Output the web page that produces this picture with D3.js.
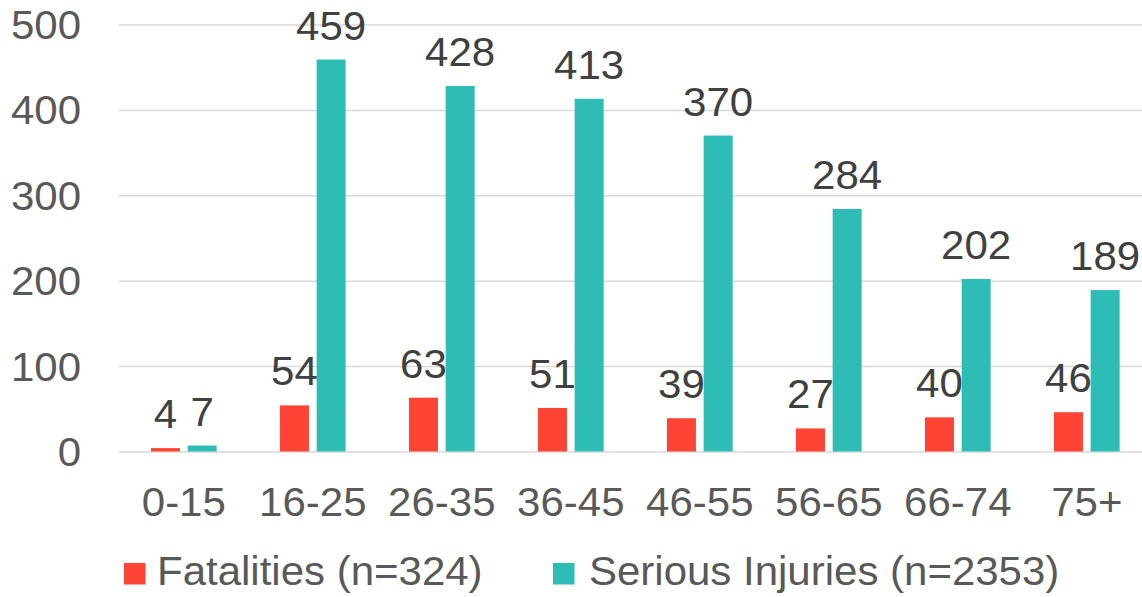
<!DOCTYPE html>
<html><head><meta charset="utf-8">
<script src="https://cdn.jsdelivr.net/npm/d3@7"></script>
<style>body{margin:0;background:#fff}svg{display:block}</style>
</head><body>
<svg id="c" width="1142" height="597"></svg>
<script>
const categories = ["0-15","16-25","26-35","36-45","46-55","56-65","66-74","75+"];
const fatalities = [4,54,63,51,39,27,40,46];
const injuries = [7,459,428,413,370,284,202,189];
const seriesNames = ["Fatalities (n=324)","Serious Injuries (n=2353)"];
const yTicks = [0,100,200,300,400,500];

const colors = ["#FF4436","#2EBDB5"];
const font = "'Liberation Sans', Arial, sans-serif";
const SX = 1.05;
const svg = d3.select("#c");

function stretch(sel){
  sel.each(function(){
    const t = d3.select(this);
    const tx = +t.attr("x") || 0, ty = +t.attr("y") || 0;
    t.attr("x",0).attr("y",0).attr("transform",`translate(${tx},${ty}) scale(${SX},1)`);
  });
}

const x = d3.scaleBand().domain(categories).range([119.3, 1151.3]).paddingInner(0).paddingOuter(0);
const y = d3.scaleLinear().domain([0,500]).range([451.5, 24.5]);
const barW = 29, gap = 7.7;

// gridlines
const yAxis = d3.axisLeft(y).tickValues(yTicks).tickSize(-(1151.3-119)).tickPadding(38).tickFormat(d3.format("d"));
const ga = svg.append("g").attr("transform","translate(119,0)").call(yAxis);
ga.select(".domain").remove();
ga.selectAll(".tick line").attr("stroke","#d9d9d9").attr("stroke-width",1.5);
ga.selectAll(".tick text").attr("fill","#595959").style("font-family",font).style("font-size","40px").attr("dy","0.35em");
stretch(ga.selectAll(".tick text"));

// x axis labels
const xAxis = d3.axisBottom(x).tickSize(0).tickPadding(36);
const gx = svg.append("g").attr("transform","translate(0,451.5)").call(xAxis);
gx.select(".domain").remove();
gx.selectAll(".tick text").attr("fill","#595959").style("font-family",font).style("font-size","40px").attr("dy","0.71em");
stretch(gx.selectAll(".tick text"));

const series = [fatalities, injuries];
const groupOffset = (x.bandwidth() - (barW*2+gap))/2;
series.forEach((vals, si) => {
  const g = svg.append("g");
  const bx = (i) => x(categories[i]) + groupOffset + si*(barW+gap);
  g.selectAll("rect").data(vals).join("rect")
    .attr("x",(d,i)=>bx(i)).attr("width",barW)
    .attr("y",d=>y(d)).attr("height",d=>y(0)-y(d))
    .attr("fill",colors[si]);
  const lbl = svg.append("g").selectAll("text").data(vals).join("text")
    .attr("x",(d,i)=>bx(i)+barW/2).attr("y",d=>y(d)-20)
    .attr("text-anchor","middle").attr("fill","#404040")
    .style("font-family",font).style("font-size","40px").text(d=>d);
  stretch(lbl);
});

// legend
const legendItems = [{x:124, tx:157},{x:553, tx:589}];
legendItems.forEach((l,i)=>{
  svg.append("rect").attr("x",l.x).attr("y",563).attr("width",21.5).attr("height",21.5).attr("fill",colors[i]);
  const t = svg.append("text").attr("x",l.tx).attr("y",585).attr("fill","#595959")
    .style("font-family",font).style("font-size","40px").text(seriesNames[i]);
  stretch(t);
});
</script>
</body></html>
